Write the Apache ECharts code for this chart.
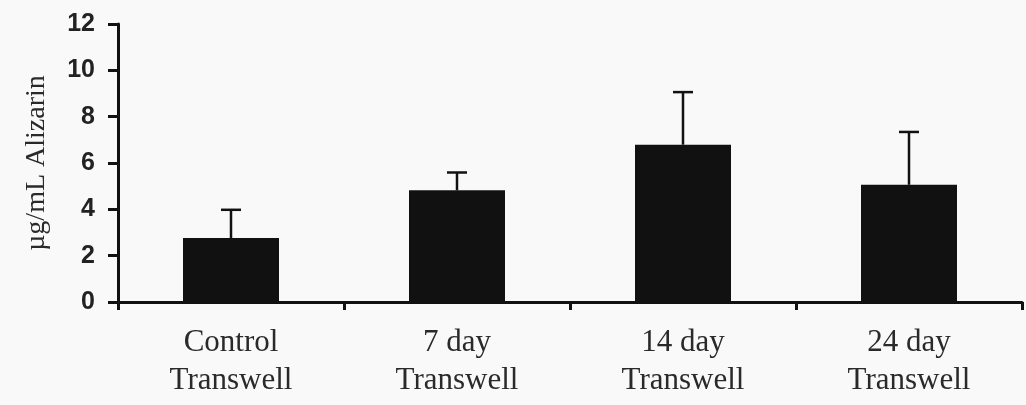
<!DOCTYPE html>
<html>
<head>
<meta charset="utf-8">
<script src="https://cdn.jsdelivr.net/npm/echarts@6/dist/echarts.min.js"></script>
<style>html,body{margin:0;padding:0;background:#f9f9f9;}#c{width:1026px;height:405px;}</style>
</head>
<body>
<div id="c"></div>
<script>
var categories = ['Control\nTranswell', '7 day\nTranswell', '14 day\nTranswell', '24 day\nTranswell'];
var values = [2.76, 4.82, 6.79, 5.06];
var errors = [1.22, 0.77, 2.27, 2.28];
var yTicks = [0, 2, 4, 6, 8, 10, 12];

var chart = echarts.init(document.getElementById('c'));
var ink = '#111111';
chart.setOption({
  backgroundColor: '#f9f9f9',
  animation: false,
  grid: {left: 118, right: 4, top: 24, bottom: 103, containLabel: false},
  xAxis: {
    type: 'category',
    data: categories,
    boundaryGap: true,
    axisLine: {show: true, lineStyle: {color: ink, width: 3}},
    axisTick: {show: true, length: 8, lineStyle: {color: ink, width: 3}},
    axisLabel: {fontFamily: 'Liberation Serif', fontSize: 31, color: '#2a2a2a', margin: 22, lineHeight: 38}
  },
  yAxis: {
    type: 'value',
    min: yTicks[0], max: yTicks[yTicks.length - 1], interval: 2,
    name: 'µg/mL Alizarin',
    nameLocation: 'middle',
    nameGap: 67,
    nameTextStyle: {fontFamily: 'Liberation Serif', fontSize: 28, color: '#2a2a2a'},
    axisLine: {show: true, lineStyle: {color: ink, width: 3}},
    axisTick: {show: true, length: 10, lineStyle: {color: ink, width: 3}},
    splitLine: {show: false},
    axisLabel: {fontFamily: 'Liberation Sans', fontWeight: 'bold', fontSize: 25, color: '#222', margin: 23}
  },
  series: [
    {
      type: 'bar',
      data: values,
      barWidth: 96,
      itemStyle: {color: ink},
      z: 2
    },
    {
      type: 'custom',
      data: values.map(function (v, i) { return [i, v, v + errors[i]]; }),
      z: 3,
      renderItem: function (params, api) {
        var x = api.value(0);
        var lo = api.coord([x, api.value(1)]);
        var hi = api.coord([x, api.value(2)]);
        var half = 10;
        var style = {stroke: ink, lineWidth: 2.5};
        return {
          type: 'group',
          children: [
            {type: 'line', shape: {x1: lo[0], y1: lo[1], x2: hi[0], y2: hi[1]}, style: style},
            {type: 'line', shape: {x1: hi[0] - half, y1: hi[1], x2: hi[0] + half, y2: hi[1]}, style: style}
          ]
        };
      }
    }
  ]
});
</script>
</body>
</html>
